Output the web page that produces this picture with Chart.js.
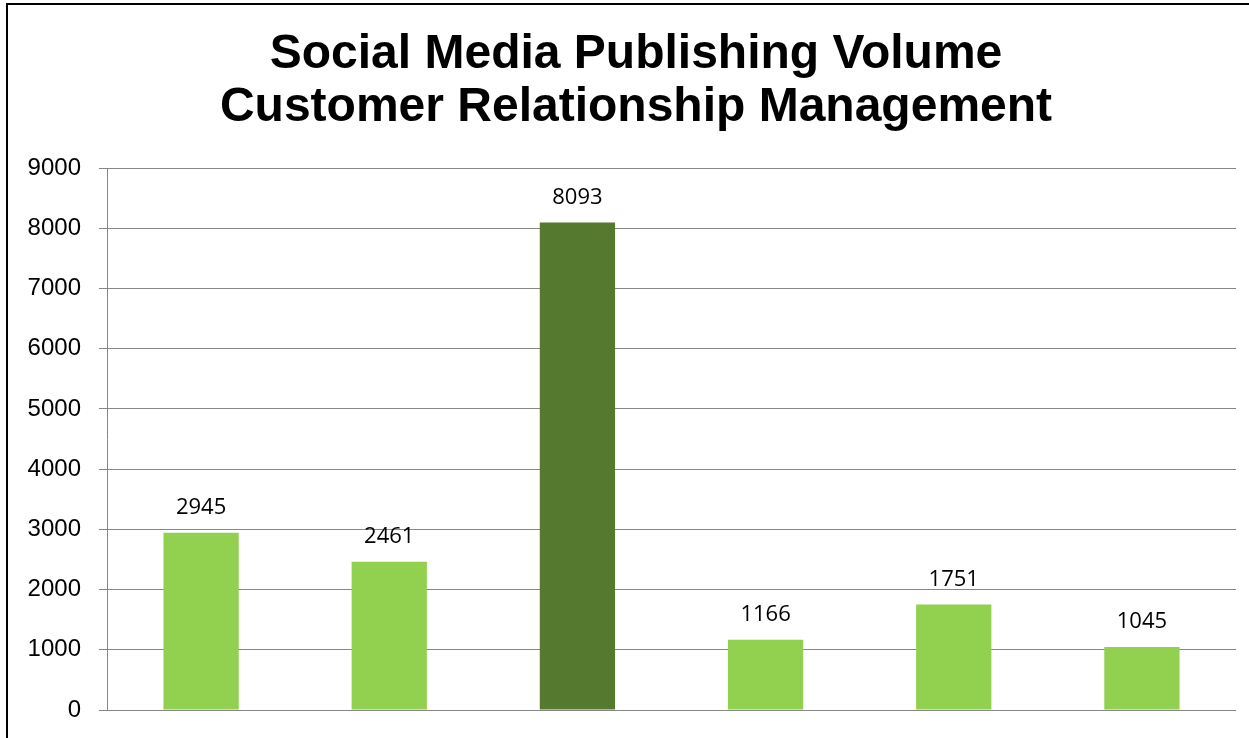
<!DOCTYPE html>
<html>
<head>
<meta charset="utf-8">
<script src="https://cdn.jsdelivr.net/npm/chart.js@4"></script>
<style>
  html, body { margin: 0; padding: 0; background: #fff; overflow: hidden; }
  #wrap { position: absolute; left: 0; top: 0; width: 1249px; height: 738px; }
  #frame { position: absolute; left: 6px; top: 3px; width: 1300px; height: 800px;
           border-left: 2px solid #000; border-top: 2px solid #000; pointer-events: none; }
  canvas { position: absolute; left: 0; top: 0; }
</style>
</head>
<body>
<div id="wrap">
  <canvas id="chart" width="1249" height="738"></canvas>
  <div id="frame"></div>
</div>
<script>
// Publishing volume per channel
const categories = ['Channel 1', 'Channel 2', 'Channel 3', 'Channel 4', 'Channel 5', 'Channel 6'];
const volumes = [2945, 2461, 8093, 1166, 1751, 1045];
const barColors = ['#92D050', '#92D050', '#557A2F', '#92D050', '#92D050', '#92D050'];
const titleLines = ['Social Media Publishing Volume', 'Customer Relationship Management'];
const yTicks = [0, 1000, 2000, 3000, 4000, 5000, 6000, 7000, 8000, 9000];

// Two-line heading above the plot
const heading = {
  id: 'heading',
  afterDraw(chart) {
    const ctx = chart.ctx;
    ctx.save();
    ctx.font = 'bold 48px "Liberation Sans", Arial, sans-serif';
    ctx.fillStyle = '#000';
    ctx.textAlign = 'center';
    ctx.textBaseline = 'middle';
    titleLines.forEach((line, i) => ctx.fillText(line, 636, 55 + i * 53));
    ctx.restore();
  }
};

// Writes each bar's value above it
const valueLabels = {
  id: 'valueLabels',
  afterDatasetsDraw(chart) {
    const ctx = chart.ctx;
    const meta = chart.getDatasetMeta(0);
    ctx.save();
    ctx.font = '22px "Open Sans"';
    ctx.fillStyle = '#000';
    ctx.textAlign = 'center';
    ctx.textBaseline = 'middle';
    meta.data.forEach((bar, i) => {
      ctx.fillText(String(chart.data.datasets[0].data[i]), bar.x, bar.y - 25);
    });
    ctx.restore();
  }
};

new Chart(document.getElementById('chart'), {
  type: 'bar',
  data: {
    labels: categories,
    datasets: [{
      data: volumes,
      backgroundColor: barColors,
      borderWidth: 0,
      categoryPercentage: 1,
      barPercentage: 0.4
    }]
  },
  options: {
    responsive: false,
    animation: false,
    layout: { padding: { left: 0, right: 13, top: 168, bottom: 28 } },
    plugins: {
      legend: { display: false },
      tooltip: { enabled: false },
      title: { display: false }
    },
    scales: {
      x: {
        display: false
      },
      y: {
        min: 0,
        max: 9000,
        afterBuildTicks(scale) { scale.ticks = yTicks.map(v => ({ value: v })); },
        afterFit(scale) {
          scale.width = 107;
          scale.paddingTop = 0;
          scale.paddingBottom = 0;
        },
        grid: { color: '#878787', lineWidth: 1, tickLength: 8, drawTicks: true },
        border: { color: '#878787', width: 1 },
        ticks: {
          color: '#000',
          padding: 18,
          font: { family: '"Liberation Sans", Arial, sans-serif', size: 24 },
          callback: v => String(v)
        }
      }
    }
  },
  plugins: [valueLabels, heading]
});
</script>
</body>
</html>
